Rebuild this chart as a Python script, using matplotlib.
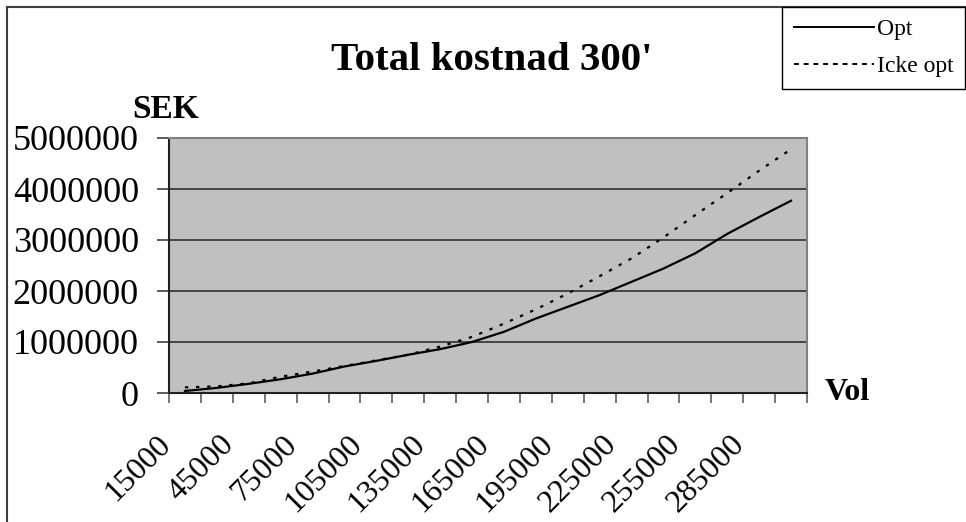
import numpy as np
import matplotlib
matplotlib.use("Agg")
import matplotlib.pyplot as plt
from matplotlib.lines import Line2D
from matplotlib.transforms import ScaledTranslation

plt.rcParams['font.family'] = ['Liberation Serif', 'DejaVu Serif']

# Volym (kategorier) och total kostnad i SEK
vol = [15000, 30000, 45000, 60000, 75000, 90000, 105000, 120000, 135000, 150000,
       165000, 180000, 195000, 210000, 225000, 240000, 255000, 270000, 285000, 300000]
opt = [40000, 100000, 180000, 270000, 380000, 520000, 630000, 750000, 860000, 1000000,
       1200000, 1460000, 1690000, 1920000, 2180000, 2440000, 2740000, 3120000, 3450000, 3770000]
icke_opt = [110000, 130000, 190000, 320000, 420000, 530000, 640000, 750000, 910000, 1100000,
            1360000, 1640000, 1950000, 2290000, 2640000, 3050000, 3490000, 3920000, 4360000, 4780000]
y_ticks = [0, 1000000, 2000000, 3000000, 4000000, 5000000]

W, H = 966, 522
fig = plt.figure(figsize=(W / 100, H / 100), dpi=100)
ax = fig.add_axes([169 / W, 1 - 393 / H, (807 - 169) / W, (393 - 138) / H])
ax.set_facecolor('#c0c0c0')

x = np.arange(len(vol))
ax.plot(x, opt, color='black', lw=1.6, label='Opt')
ax.plot(x, icke_opt, color='black', lw=1.6, linestyle=(0, (1.5, 3.5)), label='Icke opt')

ax.set_xlim(-0.5, len(vol) - 0.5)
ax.set_ylim(0, 5000000)

# gridlines
ax.set_yticks(y_ticks)
ax.set_yticklabels([str(v) for v in y_ticks], fontsize=26)
ax.yaxis.grid(True, color='#3a3a3a', lw=1.3)
ax.set_axisbelow(True)
ax.tick_params(axis='y', direction='out', length=8.6, width=1.2, color='#404040', pad=13)

# tick marks between categories, labels on every other category
ax.set_xticks(np.arange(-0.5, len(vol)), labels=[''] * (len(vol) + 1))
ax.tick_params(axis='x', which='major', direction='out', length=7, width=1.2, color='#606060')
ax.set_xticks(x[::2], labels=[str(v) for v in vol[::2]], minor=True)
ax.tick_params(axis='x', which='minor', length=0, labelsize=23, pad=34)
offset = ScaledTranslation(-19 / 100, 0, fig.dpi_scale_trans)
for lab in ax.get_xticklabels(minor=True):
    lab.set_rotation(45)
    lab.set_ha('right')
    lab.set_va('center')
    lab.set_rotation_mode('anchor')
    lab.set_transform(lab.get_transform() + offset)

for s in ['left', 'bottom']:
    ax.spines[s].set_color('#202020')
    ax.spines[s].set_linewidth(1.5)
for s in ['top', 'right']:
    ax.spines[s].set_color('#808080')
    ax.spines[s].set_linewidth(1.5)

fig.text(492 / W, 1 - 60 / H, "Total kostnad 300'", ha='center', va='center',
         fontsize=29.5, fontweight='bold')
fig.text(166 / W, 1 - 110 / H, 'SEK', ha='center', va='center', fontsize=24, fontweight='bold')
fig.text(825 / W, 1 - 392 / H, 'Vol', ha='left', va='center', fontsize=23, fontweight='bold')

# chart frame
fig.add_artist(Line2D([7 / W, 7 / W], [0, 1 - 7 / H], color='#404040', lw=1.5))
fig.add_artist(Line2D([7 / W, 1], [1 - 7 / H, 1 - 7 / H], color='#404040', lw=1.5))

leg = fig.legend(loc='upper right', bbox_to_anchor=(965 / W, 1 - 7 / H), fontsize=17,
                 frameon=True, fancybox=False, edgecolor='black', framealpha=1,
                 handlelength=3.4, handletextpad=0.1, borderaxespad=0, borderpad=0.5,
                 labelspacing=0.65)
leg.get_frame().set_linewidth(1.0)
for h in leg.legend_handles:
    h.set_linewidth(1.4)
leg.legend_handles[1].set_linestyle((0, (2.5, 2.5)))

fig.savefig('out.png', dpi=100)
